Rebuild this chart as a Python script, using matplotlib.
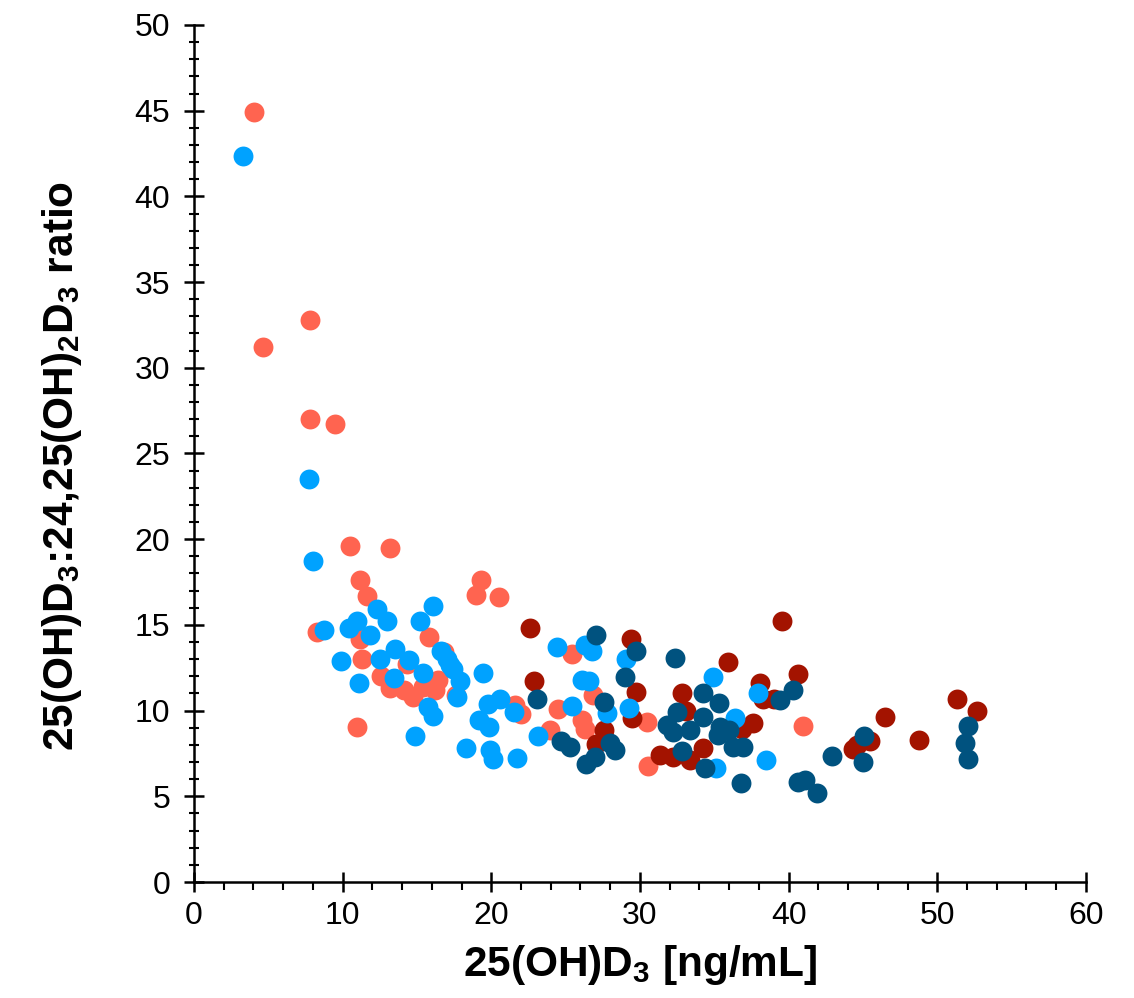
import matplotlib
matplotlib.use("Agg")
import matplotlib.pyplot as plt
from matplotlib.ticker import MultipleLocator

plt.rcParams['font.family'] = ['Liberation Sans', 'DejaVu Sans']
plt.rcParams['mathtext.fontset'] = 'custom'
plt.rcParams['mathtext.rm'] = 'Liberation Sans:bold'
plt.rcParams['mathtext.bf'] = 'Liberation Sans:bold'
plt.rcParams['mathtext.default'] = 'bf'

palette = {
    "salmon": "#FF6450",
    "dark_red": "#A31300",
    "sky_blue": "#00A2FF",
    "navy": "#00527F",
}

# salmon group
salmon_x = [4.03, 4.64, 7.8, 7.8, 9.5, 10.5, 13.2, 11.2, 11.65, 8.25, 11.2, 11.3,
            15.8, 16.8, 14.35, 12.6, 13.2, 14.1, 14.75, 15.4, 16.2, 16.4, 17.65,
            11.0, 19.3, 19.0, 20.5, 21.6, 22.0, 25.45, 26.85, 24.5, 26.1, 26.3,
            23.94, 30.5, 30.55, 41.0]
salmon_y = [44.9, 31.2, 32.8, 27.0, 26.7, 19.6, 19.5, 17.6, 16.7, 14.6, 14.2, 13.0,
            14.3, 13.4, 12.7, 12.0, 11.3, 11.2, 10.8, 11.4, 11.2, 11.8, 10.9,
            9.05, 17.6, 16.75, 16.65, 10.3, 9.8, 13.3, 10.9, 10.1, 9.45, 8.9,
            8.87, 9.35, 6.75, 9.1]

# light blue group
blue_x = [3.32, 7.71, 8.0, 8.74, 9.86, 11.1, 10.4, 11.0, 11.86, 12.33, 13.0, 12.55,
          13.5, 13.45, 14.5, 15.4, 15.2, 16.1, 16.6, 17.0, 17.2, 17.4, 17.9, 17.7,
          15.76, 16.1, 14.9, 18.3, 19.45, 19.8, 20.6, 21.5, 19.2, 19.85, 19.9,
          20.1, 21.7, 23.15, 24.4, 26.3, 26.75, 26.1, 26.6, 25.4, 27.8, 29.05,
          29.25, 34.9, 36.4, 35.1, 37.95, 38.5]
blue_y = [42.36, 23.5, 18.7, 14.7, 12.9, 11.6, 14.8, 15.2, 14.4, 15.9, 15.2, 13.0,
          13.6, 11.9, 12.95, 12.2, 15.2, 16.1, 13.5, 13.0, 12.65, 12.4, 11.7, 10.8,
          10.2, 9.7, 8.5, 7.8, 12.2, 10.4, 10.65, 9.9, 9.45, 9.05, 7.7,
          7.15, 7.25, 8.5, 13.7, 13.8, 13.45, 11.8, 11.7, 10.25, 9.85, 13.0,
          10.15, 11.95, 9.55, 6.65, 11.05, 7.1]

# dark red group
red_x = [22.6, 22.9, 29.4, 29.77, 29.5, 27.6, 27.07, 32.8, 33.1, 31.34, 32.2, 33.35,
         34.25, 35.9, 37.6, 36.9, 38.1, 38.3, 39.0, 39.56, 40.6, 46.5, 51.3, 52.7,
         48.8, 44.3, 44.6, 45.5]
red_y = [14.8, 11.7, 14.2, 11.1, 9.55, 8.85, 8.05, 11.0, 10.0, 7.4, 7.3, 7.1,
         7.8, 12.85, 9.3, 8.9, 11.6, 10.7, 10.7, 15.25, 12.15, 9.6, 10.65, 10.0,
         8.3, 7.75, 8.0, 8.25]

# dark blue group
navy_x = [27.07, 29.77, 32.35, 29.0, 23.1, 27.57, 24.7, 25.3, 28.0, 28.3, 26.4, 27.0,
          34.25, 35.3, 32.5, 31.8, 32.2, 33.35, 34.25, 35.4, 35.26, 36.0, 36.27,
          36.94, 32.8, 34.4, 36.8, 39.4, 40.3, 40.6, 41.1, 41.9, 42.9, 45.1, 45.0,
          52.1, 51.85, 52.1]
navy_y = [14.4, 13.5, 13.05, 11.95, 10.7, 10.5, 8.2, 7.9, 8.1, 7.7, 6.9, 7.3,
          11.0, 10.45, 9.9, 9.15, 8.76, 8.87, 9.64, 9.06, 8.57, 8.87, 7.9,
          7.9, 7.64, 6.63, 5.8, 10.6, 11.2, 5.85, 5.95, 5.2, 7.35, 8.5, 7.0,
          9.1, 8.1, 7.2]

fig = plt.figure(figsize=(11.34, 9.98), dpi=100)
ax = fig.add_axes([0.171, 0.1162, 0.7866, 0.8588])

ms = 205
ax.scatter(salmon_x, salmon_y, s=ms, color=palette["salmon"], linewidths=0, zorder=2)
ax.scatter(red_x, red_y, s=ms, color=palette["dark_red"], linewidths=0, zorder=3)
ax.scatter(blue_x, blue_y, s=ms, color=palette["sky_blue"], linewidths=0, zorder=4)
ax.scatter(navy_x, navy_y, s=ms, color=palette["navy"], linewidths=0, zorder=5)

ax.set_xlim(0, 60)
ax.set_ylim(0, 50)
ax.xaxis.set_major_locator(MultipleLocator(10))
ax.xaxis.set_minor_locator(MultipleLocator(2))
ax.yaxis.set_major_locator(MultipleLocator(5))
ax.yaxis.set_minor_locator(MultipleLocator(1))

for s in ["top", "right"]:
    ax.spines[s].set_visible(False)
for s in ["left", "bottom"]:
    ax.spines[s].set_linewidth(1.8)
    ax.spines[s].set_zorder(1)

ax.tick_params(axis="both", which="major", direction="inout", length=14,
               width=1.8, labelsize=23)
ax.tick_params(axis="x", which="major", pad=7)
ax.tick_params(axis="y", which="major", pad=10)
ax.tick_params(axis="x", which="minor", direction="out", length=6, width=1.5)
ax.tick_params(axis="y", which="minor", direction="inout", length=7, width=1.5)

ax.set_xlabel(r"25(OH)D$_3$ [ng/mL]", fontsize=30.5, fontweight="bold", labelpad=8)
ax.set_ylabel(r"25(OH)D$_3$:24,25(OH)$_2$D$_3$ ratio", fontsize=30.5,
              fontweight="bold")
ax.yaxis.set_label_coords(-0.123, 0.486)

fig.savefig("out.png", dpi=100)
